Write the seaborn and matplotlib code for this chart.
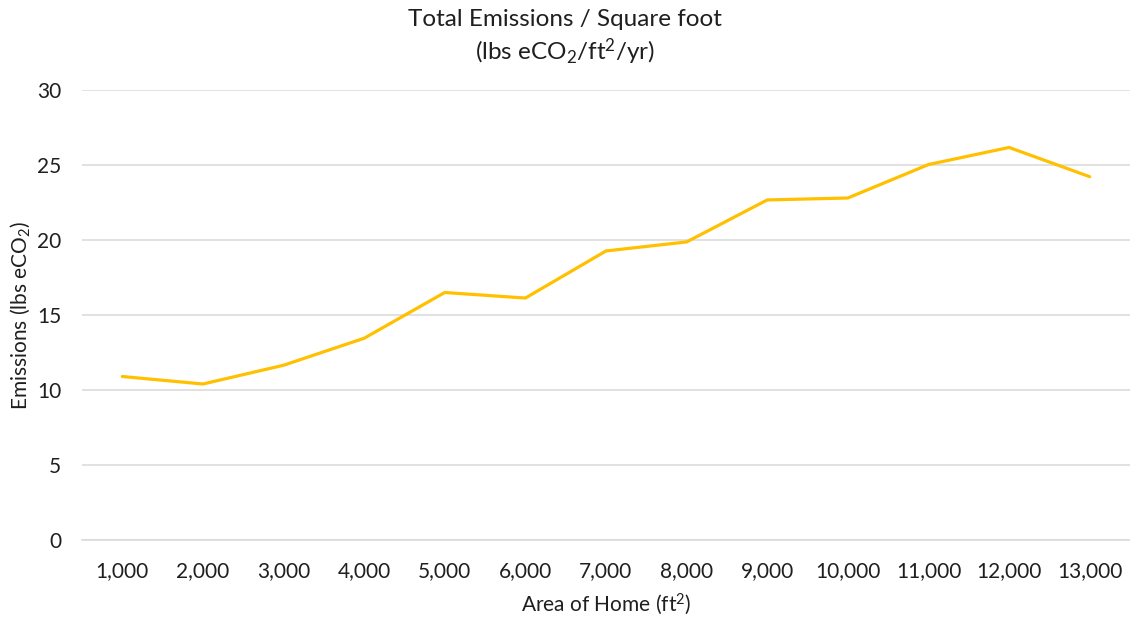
import numpy as np
import pandas as pd
import matplotlib
matplotlib.use("Agg")
import matplotlib.pyplot as plt
import seaborn as sns

# Home area (ft²) and total emissions per square foot (lbs eCO2/ft²/yr)
areas = [1000, 2000, 3000, 4000, 5000, 6000, 7000, 8000, 9000, 10000, 11000, 12000, 13000]
emissions = [10.9, 10.4, 11.65, 13.45, 16.5, 16.13, 19.27, 19.87, 22.67, 22.8, 25.03, 26.17, 24.22]
y_ticks = [0, 5, 10, 15, 20, 25, 30]

sns.set_theme(style="white")
plt.rcParams["font.family"] = ["Lato", "DejaVu Sans"]
plt.rcParams["mathtext.fontset"] = "custom"
plt.rcParams["mathtext.rm"] = "Lato"
plt.rcParams["mathtext.it"] = "Lato:italic"
plt.rcParams["mathtext.bf"] = "Lato:bold"

df = pd.DataFrame({"pos": np.arange(len(areas)), "area": areas, "emissions": emissions})

fig = plt.figure(figsize=(11.3, 6.18), dpi=100)
ax = fig.add_axes([82 / 1130, 1 - 540 / 618, (1130 - 82) / 1130, 450 / 618])

sns.lineplot(data=df, x="pos", y="emissions", ax=ax, color="#FFC000",
             linewidth=2.3, solid_joinstyle="miter")

ax.set_xlim(-0.5, len(areas) - 0.5)
ax.set_ylim(0, 30)
ax.set_yticks(y_ticks)
ax.set_yticklabels([str(t) for t in y_ticks])
ax.set_xticks(df["pos"])
ax.set_xticklabels([f"{a:,}" for a in areas])

ax.yaxis.grid(True, color="#D9D9D9", linewidth=1.1)
ax.xaxis.grid(False)
for side in ["top", "right", "left"]:
    ax.spines[side].set_visible(False)
ax.spines["bottom"].set_color("#D9D9D9")
ax.spines["bottom"].set_linewidth(1.1)

text_color = "#1F1F1F"
ax.tick_params(axis="both", length=0, labelsize=15, colors=text_color)
ax.tick_params(axis="y", pad=15)
ax.tick_params(axis="x", pad=15)

ax.set_xlabel("Area of Home (ft$^2$)", fontsize=15, color=text_color, labelpad=8)
ax.set_ylabel("Emissions (lbs eCO$_2$)", fontsize=15, color=text_color)
ax.yaxis.set_label_coords(-50 / 1048, 0.5)

fig.text(0.5, 1 - 20 / 618, "Total Emissions / Square foot", ha="center", va="center",
         fontsize=17.5, color=text_color)
fig.text(0.5, 1 - 52 / 618, "(lbs eCO$_2$/ft$^2$/yr)", ha="center", va="center",
         fontsize=17.5, color=text_color)

fig.savefig("out.png", dpi=100, facecolor="white")
